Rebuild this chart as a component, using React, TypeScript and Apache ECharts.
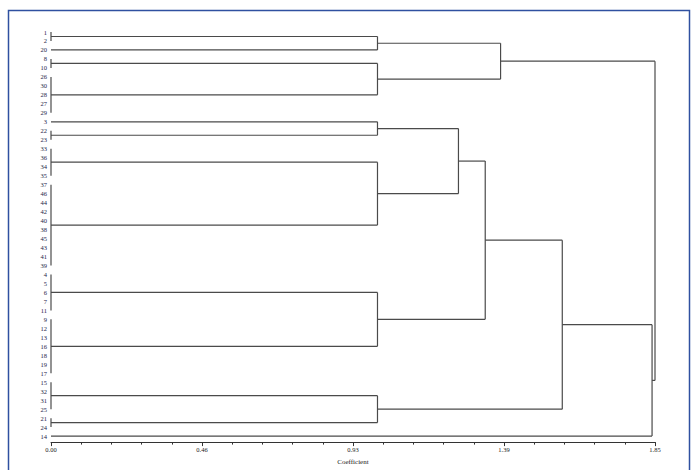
import React, { useEffect, useRef } from "react";
import * as echarts from "echarts";

// Leaf order, top to bottom
const leaves = [
  "1", "2", "20", "8", "10", "26", "30", "28", "27", "29",
  "3", "22", "23", "33", "36", "34", "35", "37", "46", "44",
  "42", "40", "38", "45", "43", "41", "39", "4", "5", "6",
  "7", "11", "9", "12", "13", "16", "18", "19", "17", "15",
  "32", "31", "25", "21", "24", "14",
];

// Cluster merges: [node id, children (leaf labels or node ids), coefficient]
const merges: [string, string[], number][] = [
  ["g12", ["1", "2"], 0],
  ["c1", ["g12", "20"], 1.0],
  ["g8", ["8", "10"], 0],
  ["g26", ["26", "30", "28", "27", "29"], 0],
  ["c2", ["g8", "g26"], 1.0],
  ["c3", ["c1", "c2"], 1.377],
  ["g22", ["22", "23"], 0],
  ["c4", ["3", "g22"], 1.0],
  ["g33", ["33", "36", "34", "35"], 0],
  ["g37", ["37", "46", "44", "42", "40", "38", "45", "43", "41", "39"], 0],
  ["c5", ["g33", "g37"], 1.0],
  ["c6", ["c4", "c5"], 1.248],
  ["g4", ["4", "5", "6", "7", "11"], 0],
  ["g9", ["9", "12", "13", "16", "18", "19", "17"], 0],
  ["c7", ["g4", "g9"], 1.0],
  ["c8", ["c6", "c7"], 1.33],
  ["g15", ["15", "32", "31", "25"], 0],
  ["g21", ["21", "24"], 0],
  ["c9", ["g15", "g21"], 1.0],
  ["c10", ["c8", "c9"], 1.566],
  ["c11", ["c10", "14"], 1.841],
  ["root", ["c3", "c11"], 1.85],
];

const xTickLabels = ["0.00", "0.46", "0.93", "1.39", "1.85"];
const xMax = 1.85;
const xStep = 0.4625;

function buildSegments(): number[][] {
  const pos: Record<string, { x: number; y: number }> = {};
  leaves.forEach((l, i) => {
    pos[l] = { x: 0, y: i };
  });
  const segs: number[][] = [];
  for (const [id, children, h] of merges) {
    const ys = children.map((c) => pos[c].y);
    const y1 = ys[0];
    const y2 = ys[ys.length - 1];
    segs.push([h, y1, h, y2]);
    for (const c of children) {
      const p = pos[c];
      if (h > p.x) segs.push([p.x, p.y, h, p.y]);
    }
    pos[id] = { x: h, y: (y1 + y2) / 2 };
  }
  return segs;
}

export default function App() {
  const ref = useRef<HTMLDivElement>(null);
  useEffect(() => {
    if (!ref.current) return;
    const chart = echarts.init(ref.current, null, { renderer: "svg" });
    const segs = buildSegments();
    const font = "'Liberation Serif', 'DejaVu Serif', serif";
    chart.setOption({
      animation: false,
      backgroundColor: "#ffffff",
      grid: { left: 51, right: 39, top: 32, bottom: 27 },
      xAxis: {
        type: "value",
        position: "bottom",
        min: 0,
        max: xMax,
        interval: xStep,
        offset: 6,
        name: "Coefficient",
        nameLocation: "middle",
        nameGap: 13,
        nameTextStyle: { fontSize: 7, fontFamily: font, color: "#222" },
        axisLine: { show: true, onZero: false, lineStyle: { color: "#333", width: 1 } },
        axisTick: { show: true, length: 4, lineStyle: { color: "#333" } },
        minorTick: { show: true, splitNumber: 5, length: 2.5, lineStyle: { color: "#333" } },
        splitLine: { show: false },
        minorSplitLine: { show: false },
        axisLabel: {
          fontSize: 6.5,
          fontFamily: font,
          color: "#222",
          margin: 4,
          formatter: (v: number) => xTickLabels[Math.round(v / xStep)] ?? "",
        },
      },
      yAxis: {
        type: "value",
        inverse: true,
        min: 0,
        max: leaves.length - 1,
        interval: 1,
        axisLine: { show: false, onZero: false },
        axisTick: { show: false },
        splitLine: { show: false },
        axisLabel: {
          fontSize: 6.5,
          fontFamily: font,
          color: "#1e2448",
          margin: 4,
          formatter: (v: number) => (Number.isInteger(v) ? leaves[v] ?? "" : ""),
        },
      },
      graphic: [
        {
          type: "rect",
          shape: { x: 8.5, y: 10.5, width: 681, height: 470 },
          style: { fill: "none", stroke: "#2f50a0", lineWidth: 1.5 },
          silent: true,
        },
      ],
      series: [
        {
          type: "custom",
          coordinateSystem: "cartesian2d",
          encode: { x: [0, 2], y: [1, 3] },
          data: segs,
          clip: false,
          renderItem: (params: any, api: any) => {
            const p1 = api.coord([api.value(0), api.value(1)]);
            const p2 = api.coord([api.value(2), api.value(3)]);
            return {
              type: "line",
              shape: { x1: p1[0], y1: p1[1], x2: p2[0], y2: p2[1] },
              style: { stroke: "#4a4a4a", lineWidth: 1.2 },
            };
          },
        },
      ],
    });
    return () => chart.dispose();
  }, []);
  return (
    <div
      ref={ref}
      style={{ position: "fixed", left: 0, top: 0, width: 694, height: 470, background: "#fff" }}
    />
  );
}
